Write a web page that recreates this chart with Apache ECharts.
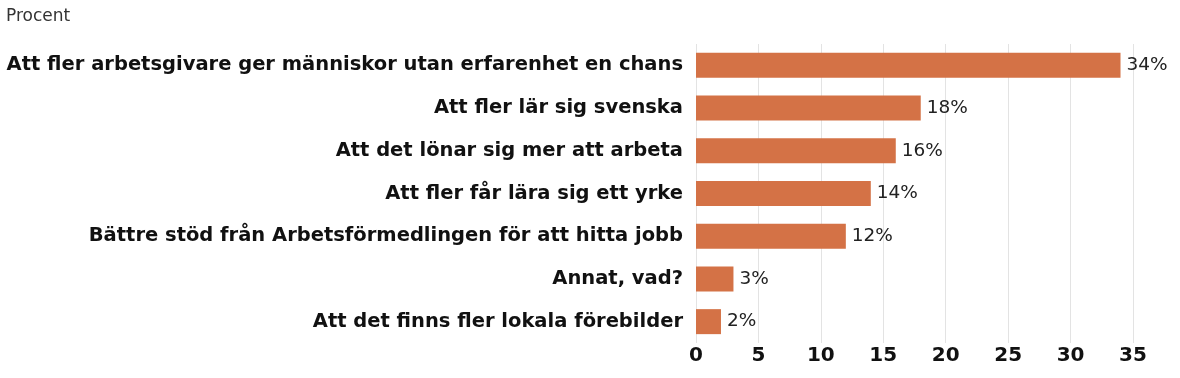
<!DOCTYPE html>
<html>
<head>
<meta charset="utf-8">
<title>Procent</title>
<script src="https://cdn.jsdelivr.net/npm/echarts@6/dist/echarts.min.js"></script>
<style>
  html, body { margin: 0; padding: 0; background: #fff; }
  #chart { width: 1180px; height: 378px; }
</style>
</head>
<body>
<div id="chart"></div>
<script>
// svar, i procent
var categories = [
    'Att fler arbetsgivare ger människor utan erfarenhet en chans',
    'Att fler lär sig svenska',
    'Att det lönar sig mer att arbeta',
    'Att fler får lära sig ett yrke',
    'Bättre stöd från Arbetsförmedlingen för att hitta jobb',
    'Annat, vad?',
    'Att det finns fler lokala förebilder'
];
var values = [34, 18, 16, 14, 12, 3, 2];
var xTicks = [0, 5, 10, 15, 20, 25, 30, 35];

var chart = echarts.init(document.getElementById('chart'));
chart.setOption({
    animation: false,
    textStyle: { fontFamily: 'DejaVu Sans' },
    title: {
        text: 'Procent',
        left: 1,
        top: 3,
        textStyle: { fontSize: 17, fontWeight: 'normal', color: '#333', fontFamily: 'DejaVu Sans' }
    },
    grid: { left: 696, right: 47, top: 44, bottom: 35, containLabel: false },
    xAxis: {
        type: 'value',
        min: xTicks[0],
        max: xTicks[xTicks.length - 1],
        interval: 5,
        axisLine: { show: false },
        axisTick: { show: false },
        splitLine: { lineStyle: { color: '#e3e3e3', width: 1 } },
        axisLabel: { fontSize: 20, fontWeight: 'bold', color: '#111', margin: 3 }
    },
    yAxis: {
        type: 'category',
        inverse: true,
        data: categories,
        axisLine: { show: false },
        axisTick: { show: false },
        axisLabel: { fontSize: 19.5, fontWeight: 'bold', color: '#111', margin: 13 }
    },
    series: [{
        type: 'bar',
        data: values,
        barWidth: 25,
        itemStyle: { color: '#D47246' },
        label: {
            show: true,
            position: 'right',
            distance: 6,
            formatter: '{c}%',
            fontSize: 18.5,
            color: '#222'
        }
    }]
});
</script>
</body>
</html>
